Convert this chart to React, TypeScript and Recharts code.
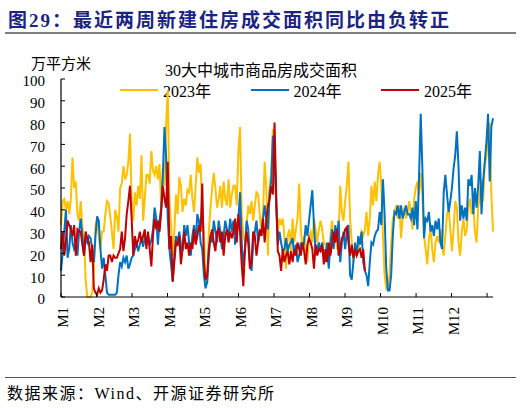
import React from 'react'
import { Line, LineChart, XAxis, YAxis } from 'recharts'

// 30大中城市商品房成交面积 (万平方米), sampled across the year
const y2023 = [
    33, 44, 45, 40, 44, 38, 45, 64, 50, 53, 38, 35, 44, 32, 27, 8, 0, 0, 0, 2, 12, 33, 36, 28, 22, 30, 30, 38, 44, 43, 37, 30, 22, 40, 37, 30, 50, 52, 60, 54, 56, 62, 75, 45, 35, 48, 42, 51, 45, 65, 35, 45, 56,
    56, 52, 67, 58, 56, 60, 54, 61, 41, 59, 51, 79, 95, 44, 33, 19, 30, 47, 38, 55, 51, 39, 45, 42, 49, 48, 56, 45, 39, 51, 64, 57, 61, 38, 30, 8, 6, 30, 41, 50, 57, 50, 41, 45, 51, 41, 53, 45, 42, 54, 41, 47, 51,
    51, 42, 67, 78, 38, 28, 25, 33, 42, 38, 44, 35, 42, 48, 47, 38, 30, 39, 62, 50, 19, 51, 57, 77, 71, 41, 30, 36, 33, 36, 28, 13, 28, 31, 21, 36, 25, 31, 36, 52, 31, 22, 28, 19, 16, 28, 30, 25, 36, 31, 25, 31, 35,
    31, 25, 24, 19, 16, 28, 35, 25, 30, 22, 28, 51, 39, 35, 44, 51, 62, 36, 25, 16, 22, 19, 22, 25, 30, 28, 31, 39, 28, 36, 51, 42, 53, 44, 56, 62, 51, 28, 10, 4, 5, 10, 24, 36, 38, 42, 36, 42, 27, 36, 41, 36, 39,
    44, 38, 31, 45, 50, 53, 47, 57, 47, 28, 22, 15, 27, 31, 22, 16, 25, 28, 25, 31, 24, 19, 28, 38, 41, 31, 21, 31, 44, 41, 25, 19, 30, 36, 28, 31, 42, 45, 38, 42, 30, 25, 41, 47, 54, 44, 61, 64, 75, 80, 47, 30,
]

const y2024 = [
    12, 20, 30, 40, 18, 22, 33, 25, 22, 24, 19, 30, 36, 28, 19, 27, 25, 28, 27, 22, 16, 28, 37, 35, 22, 13, 18, 10, 2, 1, 1, 1, 1, 1, 2, 10, 16, 14, 18, 16, 19, 13, 15, 18, 19, 22, 25, 21, 24, 27, 23, 27, 25,
    28, 24, 26, 31, 41, 36, 24, 35, 41, 56, 78, 64, 36, 22, 15, 7, 19, 28, 25, 30, 24, 21, 33, 28, 33, 25, 19, 28, 33, 25, 38, 35, 25, 22, 10, 4, 7, 19, 28, 25, 35, 30, 25, 35, 30, 22, 28, 35, 31, 28, 36, 30, 35,
    24, 33, 36, 48, 25, 14, 22, 35, 31, 16, 12, 25, 30, 35, 25, 30, 28, 36, 42, 35, 31, 48, 53, 74, 65, 42, 24, 30, 25, 21, 22, 27, 21, 24, 25, 27, 19, 24, 16, 19, 25, 22, 25, 33, 28, 35, 42, 49, 33, 21, 22, 25, 21,
    25, 19, 16, 25, 13, 24, 31, 22, 33, 27, 35, 16, 25, 30, 22, 30, 33, 10, 8, 16, 25, 19, 28, 24, 30, 16, 12, 10, 5, 16, 25, 24, 28, 30, 31, 39, 33, 54, 38, 13, 3, 3, 10, 28, 39, 38, 42, 36, 42, 36, 39, 42, 38,
    38, 36, 41, 33, 44, 31, 56, 84, 59, 27, 36, 35, 39, 30, 33, 28, 35, 31, 36, 25, 22, 48, 56, 47, 39, 44, 50, 59, 65, 76, 60, 35, 42, 36, 41, 35, 54, 51, 56, 38, 50, 41, 51, 67, 38, 53, 62, 71, 84, 53, 78, 82,
]

const y2025 = [
    22, 30, 19, 26, 35, 33, 31, 28, 33, 19, 31, 30, 30, 24, 19, 30, 27, 25, 16, 24, 4, 2, 1, 4, 2, 3, 8, 15, 12, 19, 19, 16, 19, 18, 18, 20, 22, 30, 21, 27, 38, 44, 51, 36, 19, 28, 24, 26, 30, 25, 28, 31, 22,
    30, 22, 14, 28, 36, 31, 35, 30, 39, 51, 45, 41, 62, 22, 28, 7, 16, 25, 24, 28, 15, 22, 30, 22, 25, 19, 25, 22, 31, 24, 28, 33, 30, 52, 16, 8, 10, 22, 28, 31, 25, 21, 30, 31, 25, 30, 19, 28, 31, 25, 30, 27, 30,
    36, 25, 38, 30, 15, 5, 22, 30, 25, 13, 16, 30, 28, 19, 25, 31, 28, 36, 25, 35, 42, 45, 51, 47, 80, 48, 21, 19, 12, 22, 16, 19, 21, 15, 21, 16, 22, 19, 25, 22, 19, 25, 21, 15, 24, 27, 25, 22, 13, 24, 19, 22, 21,
    24, 15, 22, 16, 25, 19, 24, 30, 25, 31, 19, 22, 27, 28, 31, 32, 25, 19, 24, 18, 22, 19, 21, 22, 18, 22, 12,
]

const monthTicks = [0, 30, 60, 90, 120, 150, 180, 210, 240, 270, 300, 330, 360]
const monthLabels = ['M1', 'M2', 'M3', 'M4', 'M5', 'M6', 'M7', 'M8', 'M9', 'M10', 'M11', 'M12']
const yTicks = [0, 10, 20, 30, 40, 50, 60, 70, 80, 90, 100]

const series = [
    { key: 'y2023', name: '2023年', color: '#FFC000' },
    { key: 'y2024', name: '2024年', color: '#0070C0' },
    { key: 'y2025', name: '2025年', color: '#C00000' },
]

const step = 365 / (y2023.length - 1)
const data = y2023.map((v, i) => ({
    day: i * step,
    y2023: v,
    y2024: y2024[i],
    y2025: y2025[i],
}))

const FONT = "'Liberation Serif', 'Times New Roman', 'Noto Sans CJK SC', serif"

const MonthTick = (props: any) => {
    const { x, y, payload, index } = props
    if (index >= monthLabels.length) return null
    return (
        <text
            transform={`translate(${x + 2},${y}) rotate(-90)`}
            textAnchor='end'
            dominantBaseline='central'
            fontSize={15}
            fontFamily={FONT}
            fill='#000'
        >
            {monthLabels[index] ?? payload.value}
        </text>
    )
}

const App = () => {
    return (
        <div style={{ position: 'absolute', left: 0, top: 0, width: 522, height: 408, background: '#fff', fontFamily: FONT, color: '#000' }}>
            <div style={{ position: 'absolute', left: 8, top: 5, fontSize: 19, fontWeight: 'bold', color: '#1B2580', letterSpacing: 2, whiteSpace: 'nowrap' }}>
                图29：最近两周新建住房成交面积同比由负转正
            </div>
            <div style={{ position: 'absolute', left: 5, top: 32, width: 511, borderTop: '2px solid #7f7f7f' }} />

            <div style={{ position: 'absolute', left: 31, top: 56, fontSize: 15, lineHeight: '16px', whiteSpace: 'nowrap' }}>万平方米</div>
            <div style={{ position: 'absolute', left: 0, width: 522, top: 62, fontSize: 16, lineHeight: '18px', textAlign: 'center', whiteSpace: 'nowrap' }}>
                30大中城市商品房成交面积
            </div>

            {series.map((s, i) => (
                <div key={s.key} style={{ position: 'absolute', left: 120 + i * 130.5, top: 81, height: 18, display: 'flex', alignItems: 'center', whiteSpace: 'nowrap' }}>
                    <div style={{ width: 38, height: 0, borderTop: `2.5px solid ${s.color}`, marginRight: 5 }} />
                    <span style={{ fontSize: 16 }}>{s.name}</span>
                </div>
            ))}

            <LineChart
                width={522}
                height={408}
                data={data}
                margin={{ top: 79, right: 29, bottom: 0, left: 0 }}
                style={{ position: 'absolute', left: 0, top: 0 }}
            >
                <XAxis
                    dataKey='day'
                    type='number'
                    domain={[0, 365]}
                    ticks={monthTicks}
                    height={111}
                    tickSize={-4}
                    tickMargin={14}
                    interval={0}
                    axisLine={{ stroke: '#000', strokeWidth: 1.2 }}
                    tickLine={{ stroke: '#000' }}
                    tick={<MonthTick />}
                />
                <YAxis
                    domain={[0, 100]}
                    ticks={yTicks}
                    width={61}
                    tickSize={-4}
                    tickMargin={20}
                    interval={0}
                    axisLine={{ stroke: '#000', strokeWidth: 1.2 }}
                    tickLine={{ stroke: '#000' }}
                    tick={{ fontSize: 15, fontFamily: FONT, fill: '#000', dy: 2 }}
                />
                {series.map(s => (
                    <Line
                        key={s.key}
                        type='linear'
                        dataKey={s.key}
                        name={s.name}
                        stroke={s.color}
                        strokeWidth={2}
                        dot={false}
                        isAnimationActive={false}
                    />
                ))}
            </LineChart>

            <div style={{ position: 'absolute', left: 5, top: 377, width: 511, borderTop: '1.5px solid #555' }} />
            <div style={{ position: 'absolute', left: 7, top: 385, fontSize: 16, lineHeight: '18px', letterSpacing: 1.5, whiteSpace: 'nowrap' }}>
                数据来源：Wind、开源证券研究所
            </div>
        </div>
    )
}

export default App
